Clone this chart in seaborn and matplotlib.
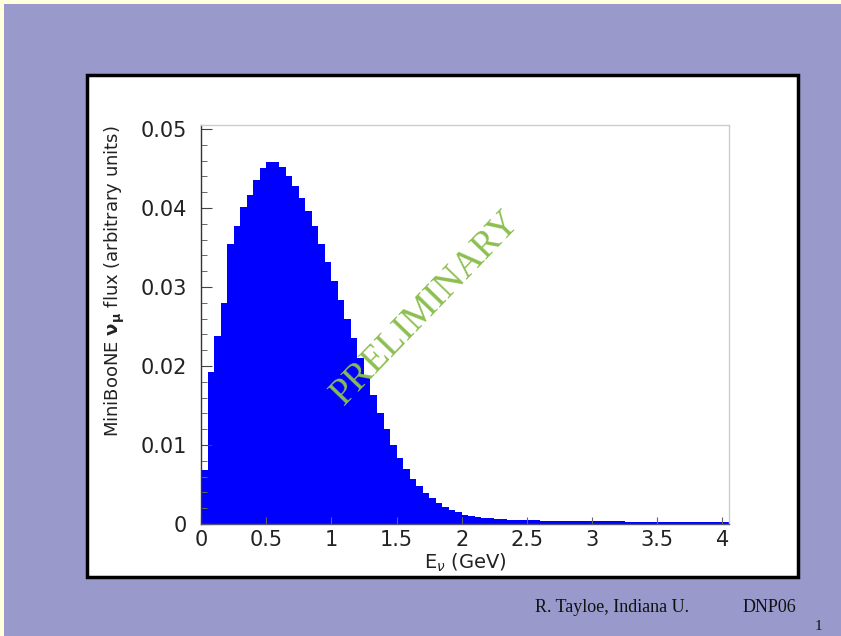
import numpy as np
import pandas as pd
import matplotlib
matplotlib.use("Agg")
import matplotlib.pyplot as plt
from matplotlib.patches import Rectangle
from matplotlib.ticker import MultipleLocator
import seaborn as sns

# MiniBooNE muon-neutrino flux, 0.05 GeV bins starting at 0 GeV
bin_width = 0.05
flux = [
    0.0068, 0.0193, 0.0238, 0.0280, 0.0354, 0.0377, 0.0401, 0.0417, 0.0436, 0.0451,
    0.0458, 0.0458, 0.0452, 0.0441, 0.0428, 0.0413, 0.0396, 0.0377, 0.0355, 0.0332,
    0.0308, 0.0283, 0.0259, 0.0235, 0.0210, 0.0186, 0.0163, 0.0140, 0.0120, 0.0100,
    0.0084, 0.0069, 0.0057, 0.0048, 0.0039, 0.0033, 0.0027, 0.0022, 0.0018, 0.0015,
    0.0012, 0.0010, 0.0009, 0.0008, 0.0007, 0.00065, 0.0006, 0.00056, 0.00053, 0.0005,
    0.00048, 0.00046, 0.00044, 0.00043, 0.00042, 0.0004, 0.00039, 0.00038, 0.00037, 0.00036,
    0.00035, 0.00034, 0.00033, 0.00033, 0.00032, 0.00031, 0.0003, 0.0003, 0.00029, 0.00028,
    0.00028, 0.00027, 0.00026, 0.00026, 0.00025, 0.00024, 0.00024, 0.00023, 0.00022, 0.0002,
    0.0002,
]
x_ticks = [0, 0.5, 1, 1.5, 2, 2.5, 3, 3.5, 4]
x_tick_labels = ["0", "0.5", "1", "1.5", "2", "2.5", "3", "3.5", "4"]
y_ticks = [0, 0.01, 0.02, 0.03, 0.04, 0.05]
y_tick_labels = ["0", "0.01", "0.02", "0.03", "0.04", "0.05"]

edges = [round(i * bin_width, 4) for i in range(len(flux) + 1)]
df = pd.DataFrame({"E": [e + bin_width / 2 for e in edges[:-1]], "flux": flux})

W, H = 841, 636
fig = plt.figure(figsize=(W / 100, H / 100), dpi=100)
fig.patch.set_facecolor("#ffffdd")

# slide background and white panel
fig.patches.append(Rectangle((4 / W, 0), 1, 1 - 4 / H, transform=fig.transFigure,
                             facecolor="#9999cc", edgecolor="none", zorder=0))
fig.patches.append(Rectangle((87 / W, 1 - 577 / H), (798 - 87) / W, (577 - 75) / H,
                             transform=fig.transFigure, facecolor="white",
                             edgecolor="black", linewidth=2.5, zorder=1))

ax = fig.add_axes([201 / W, 1 - 524 / H, (729 - 201) / W, (524 - 125) / H])
ax.set_facecolor("white")
ax.set_zorder(2)

sns.histplot(data=df, x="E", weights="flux", bins=edges, element="step", fill=True,
             color="#0000ff", alpha=1.0, linewidth=0, ax=ax)

ax.set_xlim(0, edges[-1])
ax.set_ylim(0, 0.0505)

ax.set_xticks(x_ticks)
ax.set_xticklabels(x_tick_labels)
ax.set_yticks(y_ticks)
ax.set_yticklabels(y_tick_labels)
ax.yaxis.set_minor_locator(MultipleLocator(0.002))

ax.tick_params(axis="y", which="major", direction="in", length=8, width=0.8,
               color="#444444", pad=10, labelsize=15, left=True, right=False)
ax.tick_params(axis="y", which="minor", direction="in", length=4, width=0.7,
               color="#666666", left=True, right=False)
ax.tick_params(axis="x", which="major", direction="in", length=5, width=0.8,
               color="#666666", pad=4, labelsize=15, top=False)
for lab in ax.get_xticklabels() + ax.get_yticklabels():
    lab.set_color("#222222")

for side in ("top", "right"):
    ax.spines[side].set_color("#cccccc")
    ax.spines[side].set_linewidth(1.0)
ax.spines["left"].set_color("#333333")
ax.spines["left"].set_linewidth(1.0)
ax.spines["bottom"].set_color("#555577")
ax.spines["bottom"].set_linewidth(1.0)

ax.set_ylabel(r"MiniBooNE $\mathbf{\nu_\mu}$ flux (arbitrary units)", fontsize=13,
              color="#222222", va="center")
ax.yaxis.set_label_coords(-0.164, 0.608)
ax.set_xlabel(r"E$_\nu$ (GeV)", fontsize=14, color="#222222", va="center")
ax.xaxis.set_label_coords(0.5, -0.098)

fig.text(426 / W, 1 - 308 / H, "PRELIMINARY", family="Liberation Serif", fontsize=27,
         color="#8cbf50", rotation=46, rotation_mode="anchor", ha="center",
         va="center", zorder=5)

fig.text(535 / W, 1 - 607 / H, "R. Tayloe, Indiana U.", family="Liberation Serif",
         fontsize=13, color="#111111", ha="left", va="center")
fig.text(743 / W, 1 - 607 / H, "DNP06", family="Liberation Serif",
         fontsize=13, color="#111111", ha="left", va="center")
fig.text(818 / W, 1 - 627 / H, "1", family="Liberation Serif",
         fontsize=11, color="#111111", ha="center", va="center")

fig.savefig("out.png", dpi=100, facecolor=fig.get_facecolor())
